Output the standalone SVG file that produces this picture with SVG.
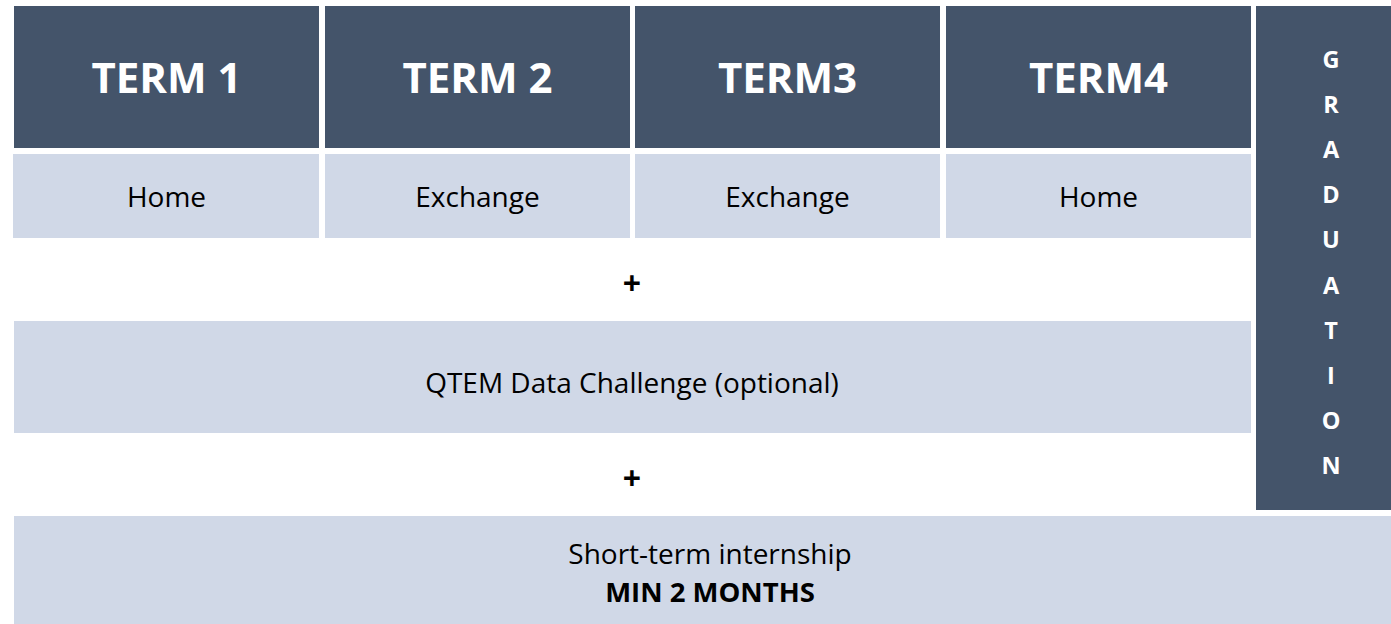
<svg xmlns="http://www.w3.org/2000/svg" width="1391" height="624" viewBox="0 0 1391 624">
<style>
.dark{fill:#44546A}
.light{fill:#D0D8E7}
.th{font-family:"Open Sans","Liberation Sans",sans-serif;font-weight:bold;font-size:42px;fill:#FFFFFF;text-anchor:middle}
.tx{font-family:"Open Sans","Liberation Sans",sans-serif;font-size:28px;fill:#000000;text-anchor:middle}
.bx{font-family:"Open Sans","Liberation Sans",sans-serif;font-size:27.5px;font-weight:bold;fill:#000000;text-anchor:middle}
.gr{font-family:"Open Sans","Liberation Sans",sans-serif;font-weight:bold;font-size:23.5px;fill:#FFFFFF;text-anchor:middle}
.pl{font-family:"Open Sans","Liberation Sans",sans-serif;font-weight:bold;font-size:32px;fill:#000000;text-anchor:middle}
</style>
<rect width="1391" height="624" fill="#FFFFFF"/>
<g id="term1"><rect class="dark" x="14" y="6" width="305" height="142"/><text class="th" x="166.5" y="93">TERM 1</text></g>
<g id="term2"><rect class="dark" x="325" y="6" width="305" height="142"/><text class="th" x="477.5" y="93">TERM 2</text></g>
<g id="term3"><rect class="dark" x="635" y="6" width="305" height="142"/><text class="th" x="787.5" y="93">TERM3</text></g>
<g id="term4"><rect class="dark" x="946" y="6" width="305" height="142"/><text class="th" x="1098.5" y="93">TERM4</text></g>
<g id="home1"><rect class="light" x="13" y="154" width="306" height="84"/><text class="tx" x="166.5" y="207">Home</text></g>
<g id="exchange2"><rect class="light" x="325" y="154" width="305" height="84"/><text class="tx" x="477.5" y="207">Exchange</text></g>
<g id="exchange3"><rect class="light" x="635" y="154" width="305" height="84"/><text class="tx" x="787.5" y="207">Exchange</text></g>
<g id="home4"><rect class="light" x="946" y="154" width="305" height="84"/><text class="tx" x="1098.5" y="207">Home</text></g>
<g id="graduation"><rect class="dark" x="1256" y="6" width="135" height="504"/>
<text class="gr" x="1331" y="68">G</text>
<text class="gr" x="1331" y="113">R</text>
<text class="gr" x="1331" y="158">A</text>
<text class="gr" x="1331" y="203">D</text>
<text class="gr" x="1331" y="248">U</text>
<text class="gr" x="1331" y="294">A</text>
<text class="gr" x="1331" y="339">T</text>
<text class="gr" x="1331" y="384">I</text>
<text class="gr" x="1331" y="429">O</text>
<text class="gr" x="1331" y="474">N</text>
</g>
<g id="plus1"><text class="pl" x="632" y="295">+</text></g>
<g id="qtem"><rect class="light" x="14" y="321" width="1237" height="112"/><text class="tx" x="632" y="393">QTEM Data Challenge (optional)</text></g>
<g id="plus2"><text class="pl" x="632" y="490">+</text></g>
<g id="internship"><rect class="light" x="14" y="516" width="1377" height="108"/><text class="tx" x="710" y="564">Short-term internship</text><text class="bx" x="710" y="602">MIN 2 MONTHS</text></g>
<g id="connectors"/>
</svg>
